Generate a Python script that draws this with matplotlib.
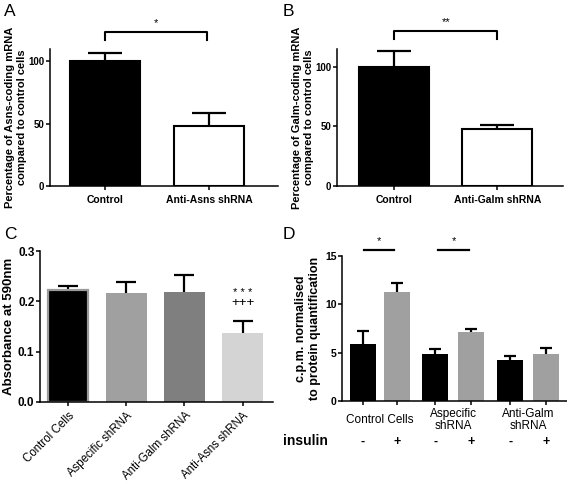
import matplotlib
matplotlib.use("Agg")
import matplotlib.pyplot as plt
import numpy as np

plt.rcParams['font.family'] = ['Liberation Sans', 'DejaVu Sans']

# Panel A
a_labels = ["Control", "Anti-Asns shRNA"]
a_means = [100, 48]
a_err = [7, 10.5]

# Panel B
b_labels = ["Control", "Anti-Galm shRNA"]
b_means = [100, 48]
b_err = [13.5, 3.2]

# Panel C
c_labels = ["Control Cells", "Aspecific shRNA", "Anti-Galm shRNA", "Anti-Asns shRNA"]
c_means = [0.222, 0.217, 0.218, 0.137]
c_err = [0.008, 0.021, 0.035, 0.024]
c_colors = ["black", "#a0a0a0", "#7f7f7f", "#d4d4d4"]

# Panel D
d_groups = ["Control Cells", "Aspecific\nshRNA", "Anti-Galm\nshRNA"]
d_insulin = ["-", "+", "-", "+", "-", "+"]
d_means = [5.85, 11.3, 4.9, 7.15, 4.25, 4.85]
d_err = [1.4, 0.9, 0.5, 0.35, 0.45, 0.6]
d_colors = ["black", "#a0a0a0"] * 3

W, H = 567, 484
fig = plt.figure(figsize=(W / 100, H / 100), dpi=100)


def px_axes(l, r, t, b):
    return fig.add_axes([l / W, 1 - b / H, (r - l) / W, (b - t) / H])


def style(ax):
    for s in ["top", "right"]:
        ax.spines[s].set_visible(False)
    for s in ["left", "bottom"]:
        ax.spines[s].set_linewidth(1.1)
    ax.tick_params(width=1.1, length=3)
    ax.tick_params(axis="y", pad=1)


def errbars(ax, x, y, e, cap, lw=1.6):
    _, caps, _ = ax.errorbar(x, y, yerr=[np.zeros(len(e)), e], fmt="none",
                             ecolor="black", elinewidth=lw, capsize=cap,
                             capthick=lw, zorder=1)
    caps[0].set_visible(False)


# ---- A ----
ax = px_axes(50, 278, 49, 186)
style(ax)
xa = np.arange(len(a_means))
ax.bar(xa, a_means, width=0.67, color=["black", "white"], edgecolor="black",
       linewidth=1.5, zorder=2)
errbars(ax, xa, a_means, a_err, 12)
ax.set_xlim(-0.526, 1.656)
ax.set_ylim(0, 110)
ax.set_yticks([0, 50, 100])
ax.set_xticks(xa)
ax.set_xticklabels(a_labels, fontweight="bold", fontsize=7.5)
for t in ax.get_yticklabels():
    t.set_fontweight("bold")
    t.set_fontsize(7)
ax.set_ylabel("Percentage of Asns-coding mRNA\ncompared to control cells",
              fontweight="bold", fontsize=8, labelpad=1, linespacing=1.3)
ax.plot([0, 0, 0.98, 0.98], [117.5, 124, 124, 117.5], color="black", lw=1.5,
        clip_on=False)
ax.text(0.49, 127, "*", ha="center", va="bottom", fontsize=8)

# ---- B ----
ax = px_axes(337, 563, 49, 186)
style(ax)
xb = np.arange(len(b_means))
ax.bar(xb, b_means, width=0.676, color=["black", "white"], edgecolor="black",
       linewidth=1.5, zorder=2)
errbars(ax, xb, b_means, b_err, 12)
ax.set_xlim(-0.55, 1.633)
ax.set_ylim(0, 115)
ax.set_yticks([0, 50, 100])
ax.set_xticks(xb)
ax.set_xticklabels(b_labels, fontweight="bold", fontsize=7.5)
for t in ax.get_yticklabels():
    t.set_fontweight("bold")
    t.set_fontsize(7)
ax.set_ylabel("Percentage of Galm-coding mRNA\ncompared to control cells",
              fontweight="bold", fontsize=8, labelpad=1, linespacing=1.3)
ax.plot([0, 0, 0.995, 0.995], [123.5, 130, 130, 123.5], color="black", lw=1.5,
        clip_on=False)
ax.text(0.5, 133, "**", ha="center", va="bottom", fontsize=8)

# ---- C ----
ax = px_axes(40, 273, 251, 402)
style(ax)
xc = np.arange(len(c_means))
bars = ax.bar(xc, c_means, width=0.7, color=c_colors, zorder=2)
bars[0].set_edgecolor("#9a9a9a")
bars[0].set_linewidth(1.6)
errbars(ax, xc, c_means, c_err, 7)
ax.set_xlim(-0.48, 3.52)
ax.set_ylim(0, 0.3)
ax.set_yticks([0.0, 0.1, 0.2, 0.3])
ax.set_yticklabels(["0.0", "0.1", "0.2", "0.3"], fontweight="bold", fontsize=8.5)
ax.set_xticks(xc)
ax.set_xticklabels(c_labels, rotation=45, ha="right", rotation_mode="anchor",
                   fontsize=8.3)
ax.tick_params(axis="x", pad=2.5)
ax.set_ylabel("Absorbance at 590nm", fontweight="bold", fontsize=9.5, labelpad=2)
ax.text(3, 0.216, "* * *", ha="center", va="center", fontsize=8)
ax.text(3, 0.196, "+++", ha="center", va="center", fontsize=9.5)

# ---- D ----
ax = px_axes(342, 567, 256, 401)
style(ax)
xd = np.array([0, 0.93, 1.97, 2.95, 4.02, 5.0])
ax.bar(xd, d_means, width=0.71, color=d_colors, zorder=2)
errbars(ax, xd, d_means, d_err, 4)
ax.set_xlim(-0.574, 5.57)
ax.set_ylim(0, 15)
ax.set_yticks([0, 5, 10, 15])
ax.set_yticklabels(["0", "5", "10", "15"], fontweight="bold", fontsize=7.5)
ax.set_xticks(xd)
ax.set_xticklabels([])
ax.set_ylabel("c.p.m. normalised\nto protein quantification", fontweight="bold",
              fontsize=9, labelpad=3, linespacing=1.25)
for x0, x1 in [(0.03, 0.85), (2.05, 2.9)]:
    ax.plot([x0, x1], [15.6, 15.6], color="black", lw=1.6, clip_on=False)
    ax.text((x0 + x1) / 2, 16.0, "*", ha="center", va="bottom", fontsize=8)
for i, g in enumerate(d_groups):
    xm = (xd[2 * i] + xd[2 * i + 1]) / 2
    ax.text(xm, -0.13, g, transform=ax.get_xaxis_transform(), ha="center",
            va="center", fontsize=8.5, linespacing=1.0)
for x, s in zip(xd, d_insulin):
    ax.text(x, -0.28, s, transform=ax.get_xaxis_transform(), ha="center",
            va="center", fontsize=9, fontweight="bold")
fig.text(305 / W, 1 - 441 / H, "insulin", ha="center", va="center",
         fontsize=10, fontweight="bold")

# panel letters
for letter, x, y in [("A", 4, 4), ("B", 283, 4), ("C", 4, 227), ("D", 283, 227)]:
    fig.text(x / W, 1 - y / H, letter, ha="left", va="top", fontsize=12.5)

fig.savefig("out.png", dpi=100)
